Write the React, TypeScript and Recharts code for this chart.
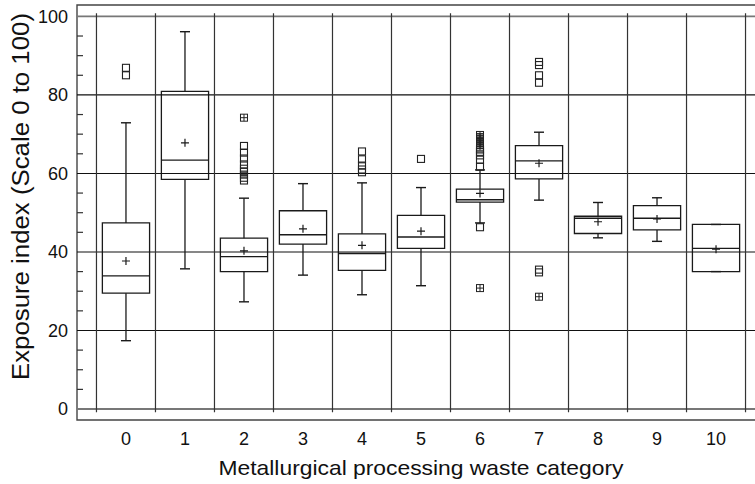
import React from 'react';
import {
  ScatterChart,
  Scatter,
  XAxis,
  YAxis,
  ReferenceLine,
  ReferenceArea,
  Label,
} from 'recharts';

// Waste categories on the x axis
const categories = [0, 1, 2, 3, 4, 5, 6, 7, 8, 9, 10];

// Box-plot statistics per category (exposure index, 0-100)
const whiskerLow = [17.4, 35.7, 27.3, 34.1, 29.1, 31.4, 47.4, 53.2, 43.6, 42.7, 35.0];
const q1 = [29.5, 58.5, 35.0, 42.0, 35.3, 40.9, 52.7, 58.6, 44.7, 45.6, 35.0];
const median = [33.9, 63.4, 38.8, 44.4, 39.6, 43.8, 53.3, 63.2, 48.6, 48.6, 40.9];
const q3 = [47.4, 80.9, 43.5, 50.5, 44.6, 49.3, 56.0, 67.1, 49.1, 51.8, 47.0];
const whiskerHigh = [72.9, 96.1, 53.7, 57.4, 57.6, 56.4, 60.9, 70.5, 52.6, 53.8, 47.0];
const means = [37.7, 67.8, 40.3, 45.9, 41.7, 45.3, 54.9, 62.6, 47.7, 48.4, 40.7];

// Outliers (1.5–3 IQR) and far outliers (> 3 IQR)
const outliers: number[][] = [
  [86.9, 85.0],
  [],
  [67.0, 65.3, 63.8, 62.3, 61.2, 60.4, 59.7, 58.9, 58.2],
  [],
  [65.6, 63.6, 62.0, 61.0, 60.3],
  [63.7],
  [46.3, 61.7, 63.5, 64.6, 65.5, 66.1],
  [88.4, 87.6, 85.0, 83.1, 35.5, 34.8],
  [],
  [],
  [],
];
const farOutliers: number[][] = [
  [],
  [],
  [74.2],
  [],
  [],
  [],
  [30.8, 66.8, 67.3, 67.8, 68.3, 68.8, 69.3, 69.8],
  [28.6],
  [],
  [],
  [],
];

const yTicks = [0, 5, 10, 15, 20, 25, 30, 35, 40, 45, 50, 55, 60, 65, 70, 75, 80, 85, 90, 95, 100];
const yGrid = [20, 40, 60, 80];
const yEdges = [0, 100];

const X_MIN = -0.83;
const X_MAX = 10.83;
const Y_MIN = -2.8;
const Y_MAX = 102.9;
const BOX_HALF = 0.4;
const CAP_HALF = 0.085;
const FONT = 'Liberation Sans, Arimo, Arial, Helvetica, sans-serif';
const INK = '#1a1a1a';

const gridX = [...categories.map((c) => c - 0.5), categories[categories.length - 1] + 0.5];

const meanData = categories.map((c, i) => ({ x: c, y: means[i] }));
const outlierData = categories.flatMap((c, i) => outliers[i].map((v) => ({ x: c, y: v })));
const farOutlierData = categories.flatMap((c, i) => farOutliers[i].map((v) => ({ x: c, y: v })));

const PlusShape = (props: any) => {
  const { cx, cy } = props;
  const r = 4;
  return (
    <path
      d={`M${cx - r},${cy}H${cx + r}M${cx},${cy - r}V${cy + r}`}
      stroke={INK}
      strokeWidth={1.2}
      fill="none"
    />
  );
};

const SquareShape = (props: any) => {
  const { cx, cy } = props;
  const r = 3.5;
  return (
    <rect x={cx - r} y={cy - r} width={2 * r} height={2 * r} fill="none" stroke="#222" strokeWidth={1.1} />
  );
};

const CrossSquareShape = (props: any) => {
  const { cx, cy } = props;
  const r = 3.5;
  return (
    <g fill="none" stroke="#222" strokeWidth={1}>
      <rect x={cx - r} y={cy - r} width={2 * r} height={2 * r} />
      <path d={`M${cx - r},${cy}H${cx + r}M${cx},${cy - r}V${cy + r}`} />
    </g>
  );
};

const XTick = (props: any) => {
  const { x, y, payload } = props;
  return (
    <text x={x} y={y + 25} textAnchor="middle" style={{ fontFamily: FONT }} fontSize={18} fill="#111">
      {payload.value}
    </text>
  );
};

const YTick = (props: any) => {
  const { x, y, payload } = props;
  const v = payload.value as number;
  if (v % 20 === 0) {
    return (
      <text x={x - 9} y={y + 6.4} textAnchor="end" style={{ fontFamily: FONT }} fontSize={18} fill="#111">
        {v}
      </text>
    );
  }
  return <line x1={x} x2={x + 6} y1={y} y2={y} stroke="#333" strokeWidth={1.2} />;
};

const XTitle = (props: any) => {
  const vb = props.viewBox || {};
  const cx = vb.x + vb.width / 2;
  return (
    <text
      x={cx}
      y={vb.y + 55}
      textAnchor="middle"
      style={{ fontFamily: FONT }}
      fontSize={21}
      fill="#111"
      textLength={405}
      lengthAdjust="spacingAndGlyphs"
    >
      Metallurgical processing waste category
    </text>
  );
};

const YTitle = (props: any) => {
  const vb = props.viewBox || {};
  const x = vb.x + 29;
  const y = vb.y + vb.height / 2 - 16;
  return (
    <text
      x={x}
      y={y}
      textAnchor="middle"
      style={{ fontFamily: FONT }}
      fontSize={23}
      fill="#111"
      transform={`rotate(-90, ${x}, ${y})`}
      textLength={367}
      lengthAdjust="spacingAndGlyphs"
    >
      Exposure index (Scale 0 to 100)
    </text>
  );
};

export default function App() {
  return (
    <div
      style={{
        position: 'fixed',
        left: 0,
        top: 0,
        width: 755,
        height: 484,
        overflow: 'hidden',
        background: '#fff',
      }}
    >
      <ScatterChart width={780} height={484} margin={{ top: 5, right: 15, bottom: 0, left: 0 }}>
        <XAxis
          type="number"
          dataKey="x"
          domain={[X_MIN, X_MAX]}
          ticks={categories}
          interval={0}
          allowDataOverflow
          height={64}
          tickSize={0}
          tickMargin={0}
          axisLine={false}
          tickLine={false}
          tick={(p: any) => <XTick {...p} />}
        >
          <Label content={(p: any) => <XTitle {...p} />} />
        </XAxis>
        <YAxis
          type="number"
          dataKey="y"
          domain={[Y_MIN, Y_MAX]}
          ticks={yTicks}
          interval={0}
          allowDataOverflow
          width={77}
          tickSize={0}
          tickMargin={0}
          axisLine={false}
          tickLine={false}
          tick={(p: any) => <YTick {...p} />}
        >
          <Label content={(p: any) => <YTitle {...p} />} />
        </YAxis>

        {/* plot frame */}
        <ReferenceArea
          x1={X_MIN}
          x2={X_MAX}
          y1={Y_MIN}
          y2={Y_MAX}
          fill="none"
          fillOpacity={0}
          stroke="#444"
          strokeWidth={1.4}
          ifOverflow="visible"
        />

        {/* horizontal grid */}
        {yGrid.map((v) => (
          <ReferenceLine key={`hg${v}`} y={v} stroke="#111" strokeWidth={1.1} ifOverflow="visible" />
        ))}
        {yEdges.map((v) => (
          <ReferenceLine key={`he${v}`} y={v} stroke="#777" strokeWidth={1.8} ifOverflow="visible" />
        ))}

        {/* vertical grid between categories */}
        {gridX.map((gx) => (
          <ReferenceLine
            key={`vg${gx}`}
            segment={[
              { x: gx, y: -0.8 },
              { x: gx, y: 100.8 },
            ]}
            stroke="#333"
            strokeWidth={1.2}
            ifOverflow="visible"
          />
        ))}

        {/* boxes */}
        {categories.map((c, i) => (
          <ReferenceArea
            key={`box${c}`}
            x1={c - BOX_HALF}
            x2={c + BOX_HALF}
            y1={q1[i]}
            y2={q3[i]}
            fill="none"
            fillOpacity={0}
            stroke={INK}
            strokeWidth={1.3}
            ifOverflow="visible"
          />
        ))}

        {/* medians */}
        {categories.map((c, i) => (
          <ReferenceLine
            key={`med${c}`}
            segment={[
              { x: c - BOX_HALF, y: median[i] },
              { x: c + BOX_HALF, y: median[i] },
            ]}
            stroke={INK}
            strokeWidth={1.4}
            ifOverflow="visible"
          />
        ))}

        {/* whiskers */}
        {categories.map((c, i) => (
          <ReferenceLine
            key={`wu${c}`}
            segment={[
              { x: c, y: q3[i] },
              { x: c, y: whiskerHigh[i] },
            ]}
            stroke={INK}
            strokeWidth={1.3}
            ifOverflow="visible"
          />
        ))}
        {categories.map((c, i) => (
          <ReferenceLine
            key={`wl${c}`}
            segment={[
              { x: c, y: whiskerLow[i] },
              { x: c, y: q1[i] },
            ]}
            stroke={INK}
            strokeWidth={1.3}
            ifOverflow="visible"
          />
        ))}
        {categories.map((c, i) => (
          <ReferenceLine
            key={`cu${c}`}
            segment={[
              { x: c - CAP_HALF, y: whiskerHigh[i] },
              { x: c + CAP_HALF, y: whiskerHigh[i] },
            ]}
            stroke={INK}
            strokeWidth={1.4}
            ifOverflow="visible"
          />
        ))}
        {categories.map((c, i) => (
          <ReferenceLine
            key={`cl${c}`}
            segment={[
              { x: c - CAP_HALF, y: whiskerLow[i] },
              { x: c + CAP_HALF, y: whiskerLow[i] },
            ]}
            stroke={INK}
            strokeWidth={1.4}
            ifOverflow="visible"
          />
        ))}

        <Scatter data={meanData} shape={(p: any) => <PlusShape {...p} />} isAnimationActive={false} />
        <Scatter data={outlierData} shape={(p: any) => <SquareShape {...p} />} isAnimationActive={false} />
        <Scatter data={farOutlierData} shape={(p: any) => <CrossSquareShape {...p} />} isAnimationActive={false} />
      </ScatterChart>
    </div>
  );
}
